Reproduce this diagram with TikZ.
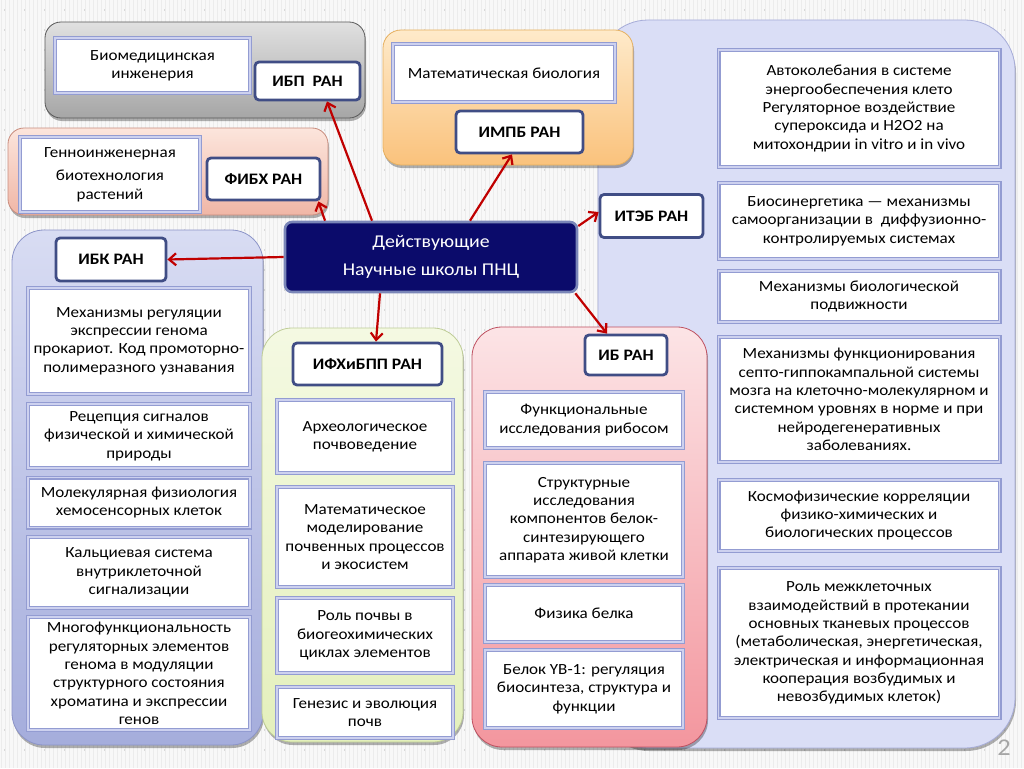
\documentclass[tikz,border=0pt]{standalone}
\usepackage{fontspec}
\setmainfont{Carlito}[FakeStretch=1.1]
\usetikzlibrary{arrows.meta,shadows}
\definecolor{bgc}{HTML}{F8F8F8}
\definecolor{stripec}{HTML}{ECECEC}
\definecolor{dotc}{HTML}{D8D8D8}
\definecolor{lavf}{HTML}{DADEF6}
\definecolor{lavb}{HTML}{A6ACD8}
\definecolor{itemc}{HTML}{939CD2}
\definecolor{itemin}{HTML}{CDD1EF}
\definecolor{labc}{HTML}{404D85}
\definecolor{arrc}{HTML}{C00000}
\definecolor{navy}{HTML}{0B0B6B}
\definecolor{navyb}{HTML}{7A86B8}
\newcommand\itmfont{\fontsize{15.5}{18.3}\selectfont}
\newcommand\labfont{\fontsize{16}{19}\selectfont\bfseries}
\tikzset{
  grp/.style={line width=0.8pt, drop shadow={shadow xshift=1pt, shadow yshift=-3pt, opacity=0.3, fill=black}},
  itm/.style={draw=itemc, line width=1.3pt, double=itemin, double distance=1.4pt, fill=white, align=center, font=\itmfont, inner sep=2pt},
  lab/.style={draw=labc, line width=2.8pt, fill=white, rounded corners=4pt, align=center, font=\labfont, inner sep=2pt},
  arr/.style={draw=arrc, line width=2.2pt, -{Straight Barb[length=7pt,width=12pt]}},
  ctr/.style={draw=navyb, line width=2.6pt, fill=navy, rounded corners=7pt, text=white, align=center, font=\fontsize{18}{28}\selectfont}
}
\begin{document}
\begin{tikzpicture}[x=1pt,y=-1pt]
\useasboundingbox (0,0) rectangle (1024,768);
\fill[bgc] (0,0) rectangle (1024,768);
\foreach \i in {0,4,...,1020} \draw[stripec, line width=1pt] (\i+1,0) -- (\i+1,768);
\foreach \j in {10,30,...,760} \draw[dotc, line width=1.2pt, dash pattern=on 1.2pt off 18.8pt] (4,\j) -- (1024,\j);

% groups
\path[grp, draw=lavb, fill=lavf, rounded corners=50pt] (598,20) rectangle (1015,748);
\path[grp, draw={rgb,255:red,230;green,176;blue,96}, top color={rgb,255:red,254;green,234;blue,202}, bottom color={rgb,255:red,250;green,194;blue,124}, rounded corners=18pt] (383,30) rectangle (633,165);
\path[grp, draw=black!65, top color=black!12, bottom color=black!35, rounded corners=16pt] (45,22) rectangle (365,118);
\path[grp, draw={rgb,255:red,200;green,140;blue,125}, top color={rgb,255:red,252;green,229;blue,220}, bottom color={rgb,255:red,240;green,182;blue,166}, rounded corners=16pt] (8,128) rectangle (328,215);
\path[grp, draw={rgb,255:red,140;green,148;blue,200}, top color={rgb,255:red,216;green,220;blue,243}, bottom color={rgb,255:red,165;green,173;blue,220}, rounded corners=32pt] (12,230) rectangle (263,745);
\path[grp, draw={rgb,255:red,190;green,204;blue,150}, top color={rgb,255:red,244;green,249;blue,226}, bottom color={rgb,255:red,228;green,240;blue,188}, rounded corners=30pt] (262,328) rectangle (463,742);
\path[grp, draw={rgb,255:red,190;green,80;blue,96}, top color={rgb,255:red,252;green,228;blue,230}, bottom color={rgb,255:red,243;green,150;blue,158}, rounded corners=30pt] (472,327) rectangle (707,747);

% IBP
\node[itm, minimum width=195pt, minimum height=55pt] (bio) at (152.5,65.5) {Биомедицинская\\инженерия};
\node[lab, minimum width=105pt, minimum height=38pt] (ibp) at (307.5,81) {ИБП\ \ РАН};
% FIBH
\node[itm, minimum width=180pt, minimum height=75pt] (gen) at (110,174.5) {Генноинженерная\\[5pt]биотехнология\\растений};
\node[lab, minimum width=113pt, minimum height=42pt] (fibh) at (263.5,179) {ФИБХ РАН};
% IMPB
\node[itm, minimum width=222pt, minimum height=58pt] (mat) at (504,73) {Математическая биология};
\node[lab, minimum width=127pt, minimum height=42pt] (impb) at (519.5,132) {ИМПБ РАН};
% ITEB
\node[lab, minimum width=103pt, minimum height=43pt] (iteb) at (651.5,216) {ИТЭБ РАН};
\node[itm, minimum width=281pt, minimum height=117pt] (r1) at (859,108.5) {Автоколебания в системе\\энергообеспечения клето\\Регуляторное воздействие\\супероксида и Н2О2 на\\митохондрии in vitro и in vivo};
\node[itm, minimum width=281pt, minimum height=76pt] (r2) at (859,221) {Биосинергетика — механизмы\\самоорганизации в\ \ диффузионно-\\контролируемых системах};
\node[itm, minimum width=281pt, minimum height=51pt] (r3) at (859,296.5) {Механизмы биологической\\подвижности};
\node[itm, minimum width=281pt, minimum height=125pt] (r4) at (859,399.5) {Механизмы функционирования\\септо-гиппокампальной системы\\мозга на клеточно-молекулярном и\\системном уровнях в норме и при\\нейродегенеративных\\заболеваниях.};
\node[itm, minimum width=281pt, minimum height=71pt] (r5) at (859,515.5) {Космофизические корреляции\\физико-химических и\\биологических процессов};
\node[itm, minimum width=281pt, minimum height=150pt] (r6) at (859,643) {Роль межклеточных\\взаимодействий в протекании\\основных тканевых процессов\\(метаболическая, энергетическая,\\электрическая и информационная\\кооперация возбудимых и\\невозбудимых клеток)};
% IBK
\node[lab, minimum width=110pt, minimum height=43pt] (ibk) at (111,259.5) {ИБК РАН};
\node[itm, minimum width=222pt, minimum height=106pt] (k1) at (139,341) {Механизмы регуляции\\экспрессии генома\\прокариот. Код промоторно-\\полимеразного узнавания};
\node[itm, minimum width=222pt, minimum height=64pt] (k2) at (139,436) {Рецепция сигналов\\физической и химической\\природы};
\node[itm, minimum width=222pt, minimum height=50pt] (k3) at (139,502.5) {Молекулярная физиология\\хемосенсорных клеток};
\node[itm, minimum width=222pt, minimum height=71pt] (k4) at (139,572.5) {Кальциевая система\\внутриклеточной\\сигнализации};
\node[itm, minimum width=222pt, minimum height=113pt] (k5) at (139,673.5) {Многофункциональность\\регуляторных элементов\\генома в модуляции\\структурного состояния\\хроматина и экспрессии\\генов};
% IFHiBPP
\node[lab, minimum width=149pt, minimum height=42pt] (ifh) at (367.5,364) {ИФХиБПП РАН};
\node[itm, minimum width=176pt, minimum height=73pt] (g1) at (365,436.5) {Археологическое\\почвоведение};
\node[itm, minimum width=176pt, minimum height=100pt] (g2) at (365,537) {Математическое\\моделирование\\почвенных процессов\\и экосистем};
\node[itm, minimum width=176pt, minimum height=75pt] (g3) at (365,635.5) {Роль почвы в\\биогеохимических\\циклах элементов};
\node[itm, minimum width=176pt, minimum height=51pt] (g4) at (365,712.5) {Генезис и эволюция\\почв};
% IB
\node[lab, minimum width=82pt, minimum height=40pt] (ib) at (626,355) {ИБ РАН};
\node[itm, minimum width=198pt, minimum height=56pt] (b1) at (584,420) {Функциональные\\исследования рибосом};
\node[itm, minimum width=198pt, minimum height=114pt] (b2) at (584,520) {Структурные\\исследования\\компонентов белок-\\синтезирующего\\аппарата живой клетки};
\node[itm, minimum width=198pt, minimum height=57pt] (b3) at (584,613.5) {Физика белка};
\node[itm, minimum width=198pt, minimum height=78pt] (b4) at (584,689) {Белок YB-1: регуляция\\биосинтеза, структура и\\функции};

% centre
\node[ctr, minimum width=292pt, minimum height=70pt] (c) at (431,257) {Действующие\\Научные школы ПНЦ};

% arrows
\draw[arr] ([xshift=-59pt]c.north) -- ([xshift=19.5pt]ibp.south);
\draw[arr] ([xshift=-106pt]c.north) -- ([xshift=-3pt]fibh.south east);
\draw[arr] ([xshift=39pt]c.north) -- ([xshift=-7.5pt]impb.south);
\draw[arr] ([yshift=31pt]c.east) -- ([yshift=4pt]iteb.west);
\draw[arr] (c.west) -- (ibk.east);
\draw[arr] ([xshift=-51pt]c.south) -- ([xshift=8.5pt]ifh.north);
\draw[arr] ([xshift=-3pt]c.south east) -- ([xshift=-19pt]ib.north);

\node[text=black!35, font=\fontsize{24}{24}\selectfont] (pg) at (1004,748) {2};
\end{tikzpicture}
\end{document}
